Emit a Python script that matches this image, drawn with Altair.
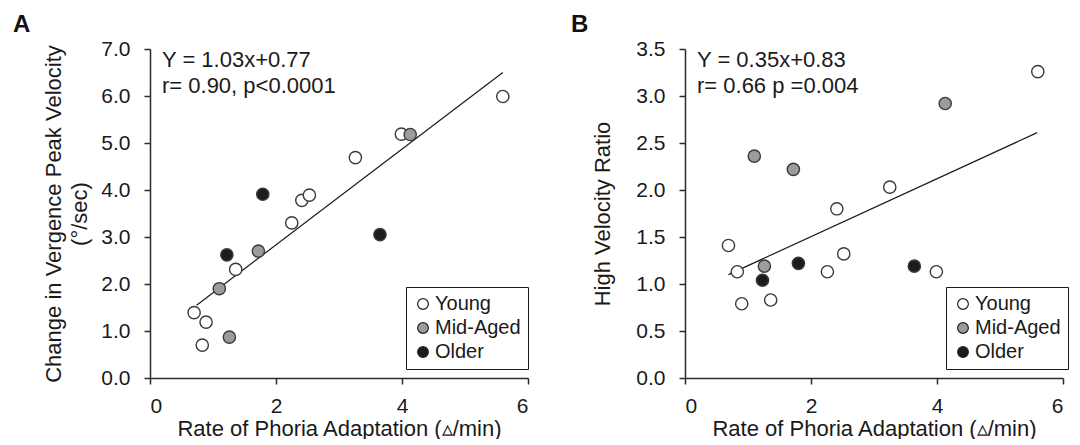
import altair as alt
import pandas as pd

# ---------------- data ----------------
groups = ["Young", "Mid-Aged", "Older"]

# Panel A: Change in Vergence Peak Velocity
a_young_x = [0.70, 0.89, 0.83, 1.36, 2.25, 2.41, 2.53, 3.26, 3.99, 5.60]
a_young_y = [1.39, 1.19, 0.70, 2.31, 3.30, 3.78, 3.89, 4.69, 5.19, 5.99]
a_mid_x = [1.10, 1.26, 1.72, 4.13]
a_mid_y = [1.90, 0.87, 2.70, 5.18]
a_old_x = [1.22, 1.79, 3.65]
a_old_y = [2.62, 3.91, 3.05]
a_fit_x = [0.74, 5.60]
a_fit_y = [1.55, 6.50]

# Panel B: High Velocity Ratio
b_young_x = [0.69, 0.83, 0.90, 1.36, 2.26, 2.41, 2.52, 3.25, 3.99, 5.60]
b_young_y = [1.41, 1.13, 0.79, 0.83, 1.13, 1.80, 1.32, 2.03, 1.13, 3.26]
b_mid_x = [1.10, 1.26, 1.72, 4.13]
b_mid_y = [2.36, 1.19, 2.22, 2.92]
b_old_x = [1.23, 1.80, 3.64]
b_old_y = [1.04, 1.22, 1.19]
b_fit_x = [0.69, 5.59]
b_fit_y = [1.10, 2.61]

x_ticks = [0, 2, 4, 6]
a_y_ticks = [0, 1, 2, 3, 4, 5, 6, 7]
b_y_ticks = [0, 0.5, 1.0, 1.5, 2.0, 2.5, 3.0, 3.5]

a_annot = "Y = 1.03x+0.77\nr= 0.90, p<0.0001"
b_annot = "Y = 0.35x+0.83\nr= 0.66 p =0.004"
x_title = "Rate of Phoria Adaptation (\u25b5/min)"
a_y_title = ["Change in Vergence Peak Velocity", "(\u00b0/sec)"]
b_y_title = "High Velocity Ratio"

FONT = "Liberation Sans"
FS = 21
TFS = 22
AXC = "#2b2b2b"


def points_df(yx, yy, mx, my, ox, oy):
    rows = []
    for g, xs, ys in zip(groups, [yx, mx, ox], [yy, my, oy]):
        for xv, yv in zip(xs, ys):
            rows.append({"x": xv, "y": yv, "group": g})
    return pd.DataFrame(rows)


def panel(df, fit_x, fit_y, ymax, yticks, ytitle, annot, letter, letter_dx,
          title_pad, legend_x):
    xs = alt.Scale(domain=[0, 6], nice=False)
    ys = alt.Scale(domain=[0, ymax], nice=False)
    xaxis = alt.Axis(values=x_ticks, title=x_title, format="d", grid=False,
                     labelPadding=11, titlePadding=2)
    yaxis = alt.Axis(values=yticks, title=ytitle, format=".1f", grid=False,
                     labelPadding=14, titlePadding=title_pad)
    pts = alt.Chart(df).mark_circle(
        size=150, opacity=1, stroke="#3a3a3a", strokeWidth=1.4
    ).encode(
        x=alt.X("x:Q", scale=xs, axis=xaxis),
        y=alt.Y("y:Q", scale=ys, axis=yaxis),
        fill=alt.Fill(
            "group:N",
            scale=alt.Scale(domain=groups, range=["#ffffff", "#9c9c9c", "#1c1c1c"]),
            sort=groups,
            legend=alt.Legend(
                title=None, orient="none", legendX=legend_x, legendY=238,
                labelFont=FONT, labelFontSize=20, labelColor="#1a1a1a",
                symbolType="circle", symbolSize=115,
                symbolStrokeColor="#222222", symbolStrokeWidth=1.2,
                strokeColor="#1a1a1a", fillColor="white", padding=7,
                rowPadding=4, labelOffset=2,
            ),
        ),
        order=alt.Order("idx:Q"),
    ).transform_window(idx="row_number()")
    fit = alt.Chart(pd.DataFrame({"x": fit_x, "y": fit_y})).mark_line(
        color="#1a1a1a", strokeWidth=1.2
    ).encode(x=alt.X("x:Q", scale=xs), y=alt.Y("y:Q", scale=ys))
    note = alt.Chart(pd.DataFrame({"t": [annot]})).mark_text(
        font=FONT, fontSize=22, align="left", baseline="alphabetic",
        lineBreak="\n", lineHeight=26, color="#1a1a1a"
    ).encode(x=alt.value(12), y=alt.value(18), text="t:N")
    lab = alt.Chart(pd.DataFrame({"t": [letter]})).mark_text(
        font=FONT, fontSize=24, fontWeight="bold", align="left",
        baseline="alphabetic", color="#111111"
    ).encode(x=alt.value(letter_dx), y=alt.value(-17), text="t:N")
    return alt.layer(fit, pts, note, lab).properties(width=378, height=329)


dfa = points_df(a_young_x, a_young_y, a_mid_x, a_mid_y, a_old_x, a_old_y)
dfb = points_df(b_young_x, b_young_y, b_mid_x, b_mid_y, b_old_x, b_old_y)

pa = panel(dfa, a_fit_x, a_fit_y, 7, a_y_ticks, a_y_title, a_annot, "A", -137, 9, 256)
pb = panel(dfb, b_fit_x, b_fit_y, 3.5, b_y_ticks, b_y_title, b_annot, "B", -114, 21, 261)

chart = alt.hconcat(pa, pb, spacing=157, bounds="flush").resolve_scale(
    fill="independent"
).properties(
    padding={"left": 5, "top": 5, "right": 0, "bottom": 0}
).configure_view(stroke=None).configure_axis(
    labelFont=FONT, labelFontSize=FS, labelColor="#1a1a1a",
    titleFont=FONT, titleFontSize=TFS, titleFontWeight="normal", titleColor="#1a1a1a",
    domainColor=AXC, domainWidth=1.5, tickColor=AXC, tickWidth=1.5, tickSize=6,
    titleLineHeight=26,
)

chart.save("out.html", embed_options={"renderer": "svg", "actions": False})
